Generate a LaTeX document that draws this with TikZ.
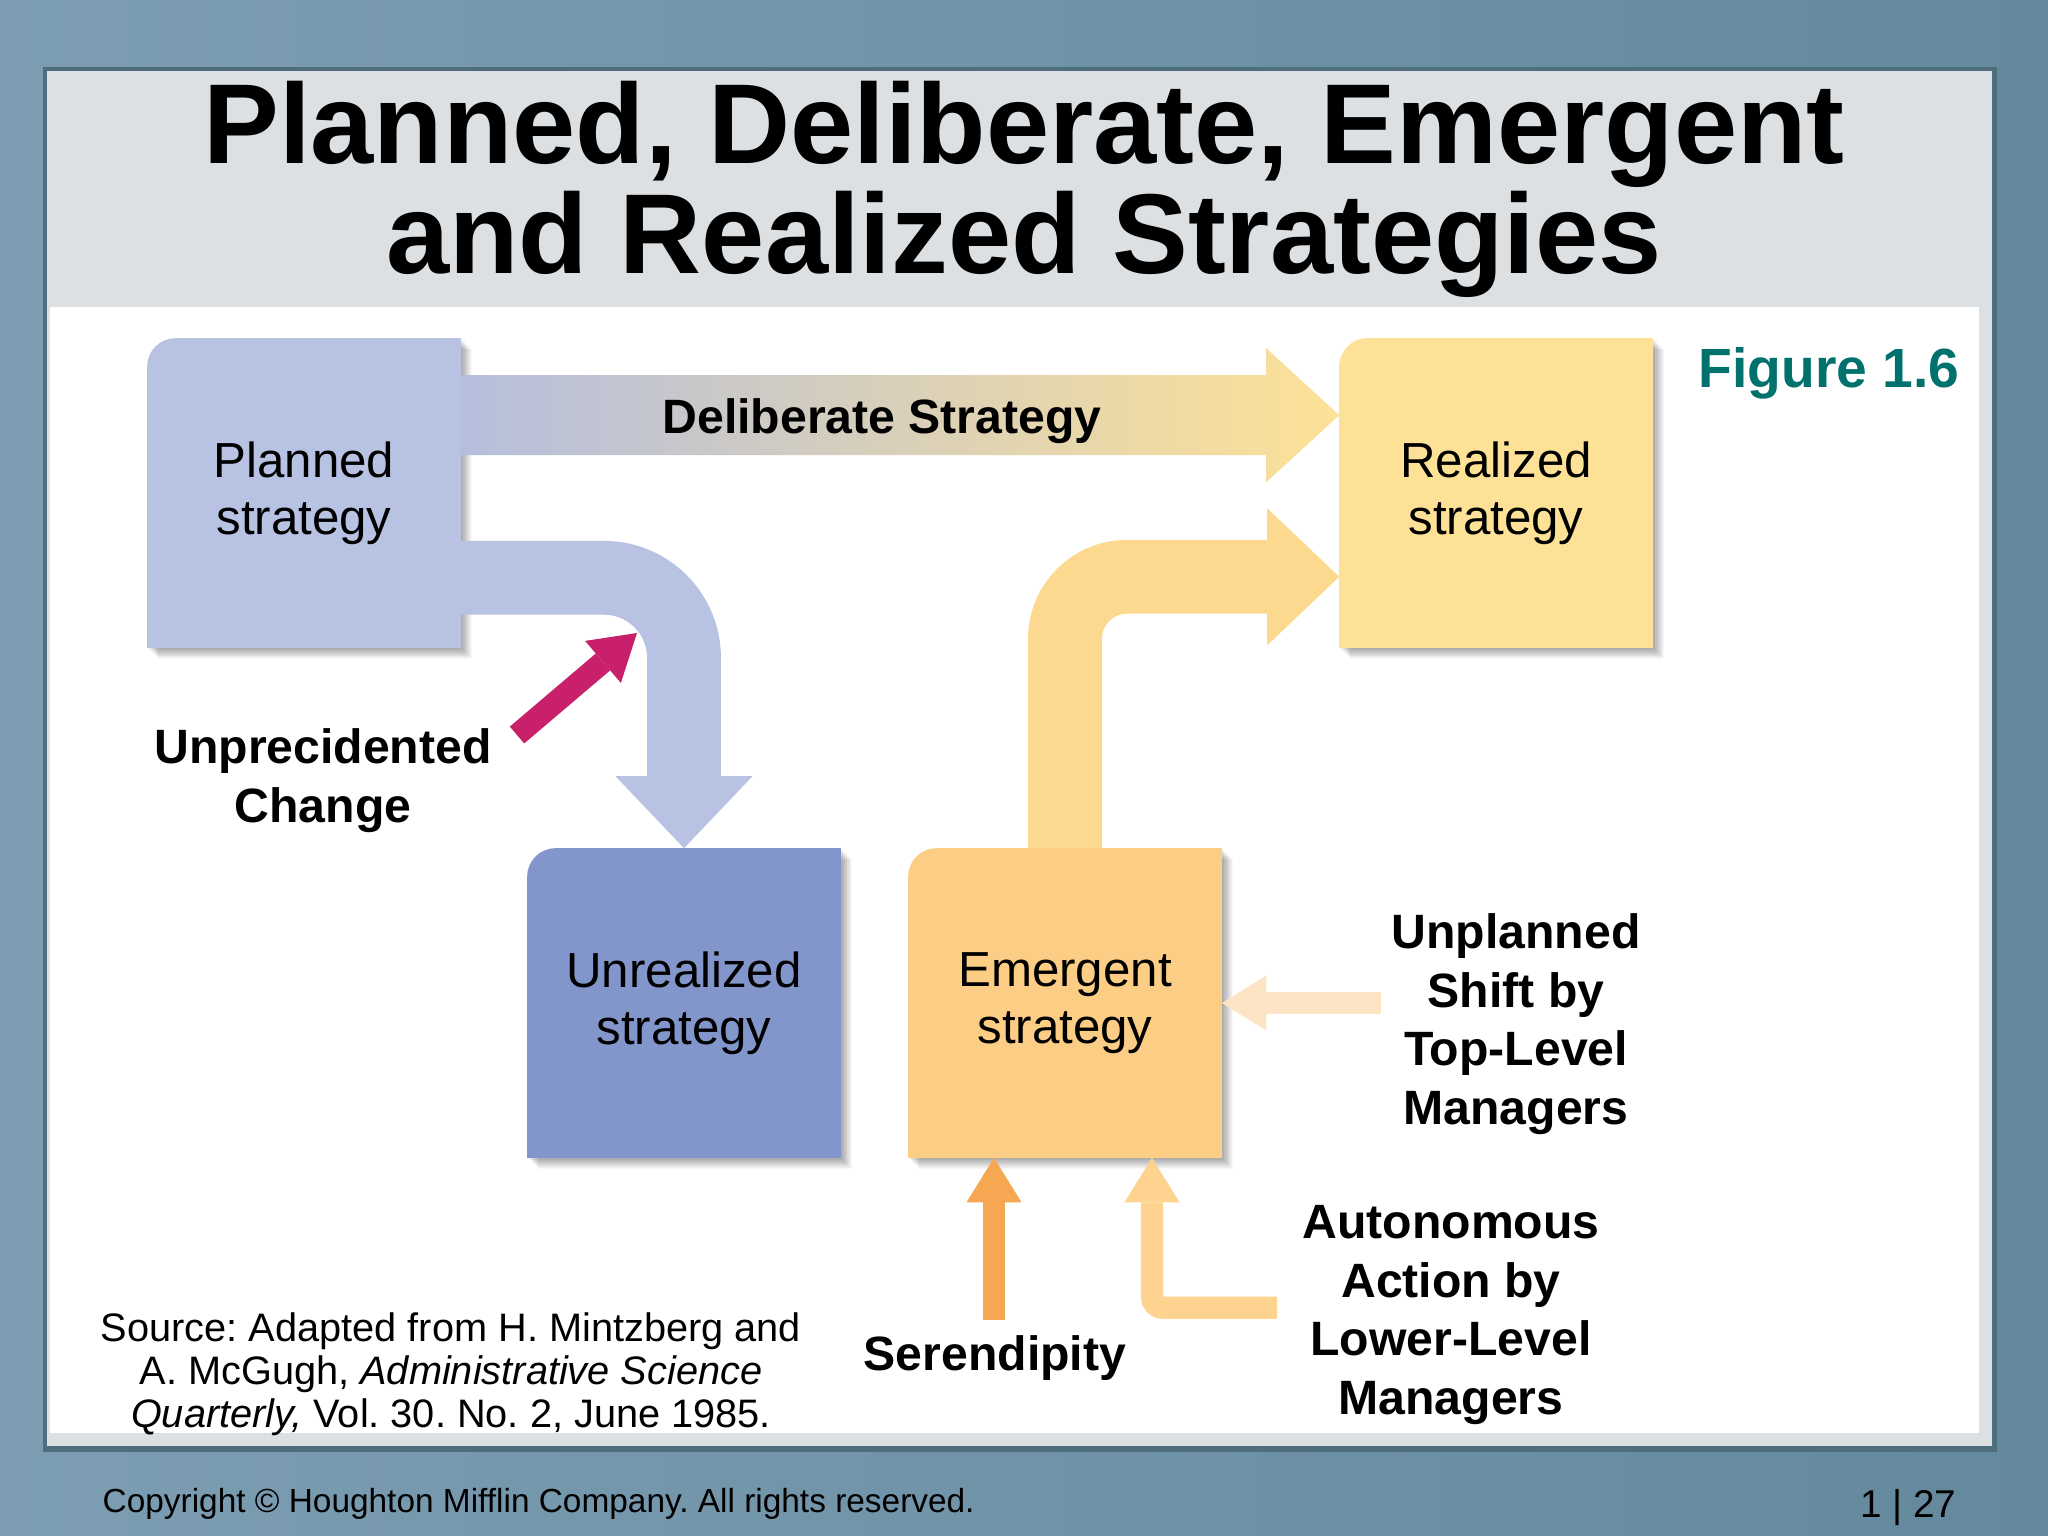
\documentclass[tikz,border=0pt]{standalone}
\usepackage{fontspec}
\setmainfont{Liberation Sans}
\usetikzlibrary{arrows.meta,calc}
\frenchspacing

\definecolor{slateL}{HTML}{7C9DB2}
\definecolor{slateR}{HTML}{64899C}
\definecolor{panelrim}{HTML}{4E6D7D}
\definecolor{panelgray}{HTML}{DCE0E3}
\definecolor{planblue}{HTML}{B8C2E2}
\definecolor{unrealblue}{HTML}{8296CC}
\definecolor{realyellow}{HTML}{FDE196}
\definecolor{emergorange}{HTML}{FCCE85}
\definecolor{bendyellow}{HTML}{FDD990}
\definecolor{shockred}{HTML}{C8206A}
\definecolor{shiftpeach}{HTML}{FDE4C4}
\definecolor{luckorange}{HTML}{F6A752}
\definecolor{autopeach}{HTML}{FDD38F}
\definecolor{figteal}{HTML}{00716C}

\pgfdeclarelayer{slide}
\pgfdeclarelayer{boxes}
\pgfsetlayers{slide,boxes,main}

\tikzset{
  stratbox/.style={minimum width=3.12cm, minimum height=3.08cm, inner sep=0pt,
    align=center, font=\fontsize{14}{16.1}\selectfont},
  cue/.style={anchor=base, align=center, inner sep=0pt,
    font=\bfseries\fontsize{13.7}{16.6}\selectfont},
  bandarrow/.style={line width=21pt, -{Triangle[width=39pt,length=20.5pt,line width=0pt]}},
  thinarrow/.style={line width=6.3pt, -{Triangle[width=15.7pt,length=12.7pt,line width=0pt]}},
}

% top-left corner rounded, soft shadow to the lower right
\newcommand\boxoutline[2]{([shift={#1}]#2.south west)
    -- ([shift={#1},yshift=-8pt]#2.north west)
    .. controls ([shift={#1},yshift=-3.6pt]#2.north west)
    and ([shift={#1},xshift=3.6pt]#2.north west)
    .. ([shift={#1},xshift=8pt]#2.north west)
    -- ([shift={#1}]#2.north east) -- ([shift={#1}]#2.south east) -- cycle}
\newcommand\stratfill[2]{%
  \foreach \k in {1,...,5}
    \fill[black, opacity=0.07] \boxoutline{(\k*0.6pt,-\k*0.6pt)}{#1};
  \fill[#2] \boxoutline{(0pt,0pt)}{#1};}

\begin{document}
\begin{tikzpicture}[x=0.01cm, y=-0.01cm]
    \useasboundingbox (0,0) rectangle (2048,1536);

    \begin{pgfonlayer}{slide}
        \shade[left color=slateL, right color=slateR] (0,0) rectangle (2048,1536);
        \fill[panelrim] (43,67) rectangle (1997,1452);
        \fill[panelgray] (47,71) rectangle (1992,1446);
        \fill[white] (50,307) rectangle (1979,1433);
    \end{pgfonlayer}

    \node[anchor=base, align=center, inner sep=0pt, font=\bfseries\fontsize{32.3}{29.6}\selectfont]
        (title) at (1024,273) {Planned, Deliberate, Emergent\\and Realized Strategies};
    \node[anchor=base east, inner sep=0pt, text=figteal, font=\bfseries\fontsize{15.7}{18}\selectfont]
        (fig) at (1960,387) {Figure 1.6};

    % strategy boxes
    \node[stratbox] (planned) at (304,493) {Planned\\strategy};
    \node[stratbox] (realized) at (1496,493) {Realized\\strategy};
    \node[stratbox] (unrealized) at (684,1003) {Unrealized\\strategy};
    \node[stratbox] (emergent) at (1065,1003) {Emergent\\strategy};

    \begin{pgfonlayer}{boxes}
        \stratfill{planned}{planblue}
        \stratfill{realized}{realyellow}
        \stratfill{unrealized}{unrealblue}
        \stratfill{emergent}{emergorange}
    \end{pgfonlayer}

    % deliberate strategy
    \coordinate (dtail) at ($(planned.north east)+(0,77)$);
    \coordinate (dtip) at ($(realized.north west)+(0,77)$);
    \shade[left color=planblue!95!gray, right color=realyellow]
        ($(dtail)+(0,-40)$) -- ($(dtip)+(-73,-40)$) -- ($(dtip)+(-73,-67)$) -- (dtip)
        -- ($(dtip)+(-73,67)$) -- ($(dtip)+(-73,40)$) -- ($(dtail)+(0,40)$) -- cycle;
    \node[cue] (delib) at (882,433) {Deliberate Strategy};

    \draw[bandarrow, planblue, rounded corners=0.8cm]
        ($(planned.south east)+(0,-70)$) -| (unrealized.north);
    \draw[bandarrow, bendyellow, rounded corners=0.62cm]
        (emergent.north) |- ($(realized.south west)+(0,-71)$);

    % outside pushes
    \node[cue] (unprec) at (323,822) {Unprecidented\\Change};
    \coordinate (shock) at (517,735);
    \coordinate (bendin) at (637,633);
    \draw[thinarrow, shockred] (shock) -- (bendin);

    \node[cue] (unplanned) at (1516,1124) {Unplanned\\Shift by\\Top-Level\\Managers};
    \coordinate (shiftfrom) at ($(emergent.east)+(159,0)$);
    \draw[thinarrow, shiftpeach] (shiftfrom) -- (emergent.east);

    \node[cue] (luck) at (995,1370) {Serendipity};
    \coordinate (luckfrom) at ($(emergent.south)+(-71,162)$);
    \draw[thinarrow, luckorange] (luckfrom) -- (luckfrom |- emergent.south);

    \node[cue] (autonomous) at (1451,1414) {Autonomous\\Action by\\Lower-Level\\Managers};
    \coordinate (autofrom) at ($(emergent.south)+(212,150)$);
    \draw[thinarrow, autopeach, rounded corners=0.11cm]
        (autofrom) -| ($(emergent.south)+(87,0)$);

    \node[anchor=base, align=center, inner sep=0pt, font=\fontsize{11.3}{12.1}\selectfont]
        (source) at (451,1427) {Source: Adapted from H. Mintzberg and\\
        A. McGugh, \textit{Administrative Science}\\
        \textit{Quarterly,} Vol. 30. No. 2, June 1985.};

    \node[anchor=base west, inner sep=0pt, font=\fontsize{9.5}{11}\selectfont]
        (copyright) at (102,1512) {Copyright © Houghton Mifflin Company. All rights reserved.};
    \node[anchor=base east, inner sep=0pt, font=\fontsize{11}{13}\selectfont]
        (page) at (1957,1517) {1 | 27};
\end{tikzpicture}
\end{document}
